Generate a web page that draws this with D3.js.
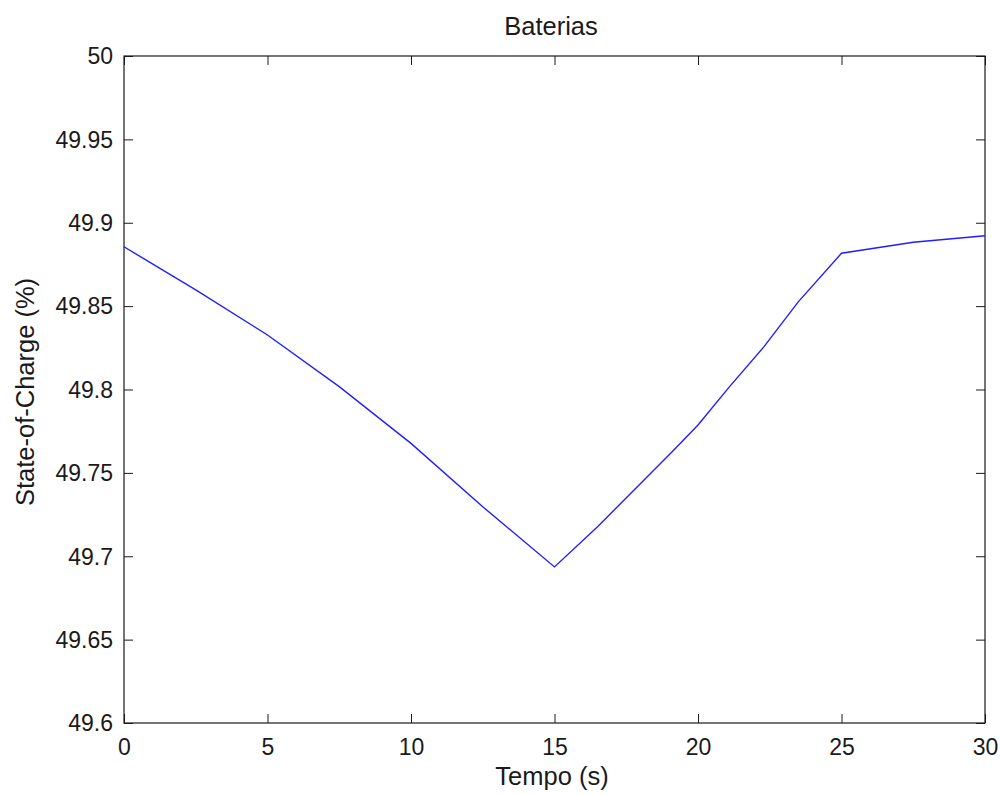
<!DOCTYPE html>
<html>
<head>
<meta charset="utf-8">
<script src="https://cdn.jsdelivr.net/npm/d3@7"></script>
<style>
  html, body { margin: 0; padding: 0; background: #fff; }
  svg { display: block; }
  text { font-family: "Liberation Sans", Arial, sans-serif; fill: #1a1a1a; }
</style>
</head>
<body>
<svg id="chart" width="1000" height="795"></svg>
<script>
// ---- data ----
const titleText = "Baterias";
const xLabel = "Tempo (s)";
const yLabel = "State-of-Charge (%)";
const timeValues = [0, 2.5, 5, 7.5, 10, 12.5, 15, 16.5, 19.1, 20, 21.1, 22.3, 23.5, 25, 27.5, 30];
const socValues = [49.8856, 49.8597, 49.8327, 49.8017, 49.7677, 49.7297, 49.6936, 49.7177, 49.7627,
                   49.7787, 49.8017, 49.8257, 49.8527, 49.8817, 49.8883, 49.8922];
const xTicks = [0, 5, 10, 15, 20, 25, 30];
const yTicks = [49.6, 49.65, 49.7, 49.75, 49.8, 49.85, 49.9, 49.95, 50];
const yTickLabels = ["49.6", "49.65", "49.7", "49.75", "49.8", "49.85", "49.9", "49.95", "50"];

// ---- layout ----
const mLeft = 124, mRight = 985, mTop = 56, mBottom = 723;
const tickLen = 9;
const tickFont = 23;
const labelFont = 25.5;

const svg = d3.select("#chart");
const x = d3.scaleLinear().domain([0, 30]).range([mLeft, mRight]);
const y = d3.scaleLinear().domain([49.6, 50]).range([mBottom, mTop]);

const axB = d3.axisBottom(x).tickValues(xTicks).tickSize(tickLen).tickFormat(d3.format("d"));
const axT = d3.axisTop(x).tickValues(xTicks).tickSize(tickLen).tickFormat("");
const axL = d3.axisLeft(y).tickValues(yTicks).tickSize(tickLen).tickFormat((d, i) => yTickLabels[i]);
const axR = d3.axisRight(y).tickValues(yTicks).tickSize(tickLen).tickFormat("");

function style(g) {
  g.select(".domain").remove();
  g.selectAll(".tick line").attr("stroke", "#1a1a1a").attr("stroke-width", 1);
  g.selectAll(".tick text").attr("font-size", tickFont)
    .attr("font-family", '"Liberation Sans", Arial, sans-serif').attr("fill", "#1a1a1a");
}

const gB = svg.append("g").attr("transform", `translate(0,${mBottom})`).call(axB).call(style);
gB.selectAll(".tick line").attr("y2", -tickLen);
gB.selectAll(".tick text").attr("y", 16).attr("dy", "0.71em");

const gT = svg.append("g").attr("transform", `translate(0,${mTop})`).call(axT).call(style);
gT.selectAll(".tick line").attr("y2", tickLen);

const gL = svg.append("g").attr("transform", `translate(${mLeft},0)`).call(axL).call(style);
gL.selectAll(".tick line").attr("x2", tickLen);
gL.selectAll(".tick text").attr("x", -11).attr("dy", "0.34em");

const gR = svg.append("g").attr("transform", `translate(${mRight},0)`).call(axR).call(style);
gR.selectAll(".tick line").attr("x2", -tickLen);

svg.append("rect")
  .attr("x", mLeft).attr("y", mTop)
  .attr("width", mRight - mLeft).attr("height", mBottom - mTop)
  .attr("fill", "none").attr("stroke", "#1a1a1a").attr("stroke-width", 1.2);

const pts = timeValues.map((t, i) => [t, socValues[i]]);
svg.append("path")
  .datum(pts)
  .attr("fill", "none")
  .attr("stroke", "#1f1fff")
  .attr("stroke-width", 1.4)
  .attr("d", d3.line().x(d => x(d[0])).y(d => y(d[1])));

svg.append("text").attr("x", 551).attr("y", 35)
  .attr("text-anchor", "middle").attr("font-size", labelFont).text(titleText);
svg.append("text").attr("x", 552).attr("y", 785)
  .attr("text-anchor", "middle").attr("font-size", labelFont).text(xLabel);
svg.append("text")
  .attr("transform", `translate(34,392) rotate(-90)`)
  .attr("text-anchor", "middle").attr("font-size", labelFont).text(yLabel);
</script>
</body>
</html>
